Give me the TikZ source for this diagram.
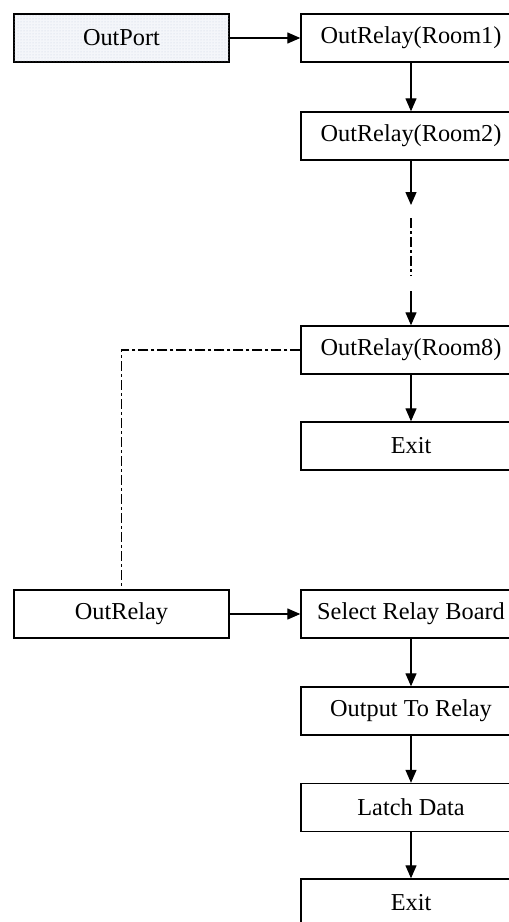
\documentclass[tikz,border=0pt]{standalone}
\usepackage{fontspec}
\setmainfont{Liberation Serif}
\usetikzlibrary{arrows.meta,patterns}
\begin{document}
\begin{tikzpicture}[x=1pt,y=-1pt,
  box/.style={draw,line width=1.4pt,minimum height=48pt,inner sep=0pt,
    font=\fontsize{24.3}{28}\selectfont},
  lbox/.style={box,minimum width=215pt},
  rbox/.style={box,minimum width=220pt},
  flow/.style={line width=1.3pt,-{Triangle[width=11pt,length=13pt]}},
  dashdot/.style={line width=1.3pt,dash pattern=on 10pt off 3pt on 3pt off 3pt},
  shaded/.style={fill={rgb,255:red,244;green,246;blue,250},
    postaction={pattern=dots,pattern color={rgb,255:red,200;green,208;blue,225}}}]
\useasboundingbox (0,0) rectangle (509,922);
\begin{scope}
\clip (0,0) rectangle (509,922);
\fill[white] (0,0) rectangle (509,922);

% first routine
\node[lbox,shaded] (outport) at (121.5,38) {OutPort};
\node[rbox] (r1) at (411,38) {OutRelay(Room1)};
\node[rbox] (r2) at (411,136) {OutRelay(Room2)};
\node[rbox] (r8) at (411,350) {OutRelay(Room8)};
\node[rbox] (exita) at (411,446) {Exit};

\coordinate (g1) at (411,205);
\coordinate (g2) at (411,218);
\coordinate (g3) at (411,276);
\coordinate (g4) at (411,291);

\draw[flow] (outport) -- (r1);
\draw[flow] (r1) -- (r2);
\draw[flow] (r2) -- (g1);
\draw[dashdot] (g2) -- (g3);
\draw[flow] (g4) -- (r8);
\draw[flow] (r8) -- (exita);

% second routine
\node[lbox] (outrelay) at (121.5,614) {OutRelay};
\node[rbox] (select) at (411,614) {Select Relay Board};
\node[rbox] (output) at (411,711) {Output To Relay};
\node[rbox] (latch) at (411,807.5) {Latch Data};
\node[rbox] (exitb) at (411,903) {Exit};

\draw[flow] (outrelay) -- (select);
\draw[flow] (select) -- (output);
\draw[flow] (output) -- (latch);
\draw[flow] (latch) -- (exitb);

% link between the two routines
\draw[dashdot] (r8.west) -| (outrelay.north);
\end{scope}
\end{tikzpicture}
\end{document}
